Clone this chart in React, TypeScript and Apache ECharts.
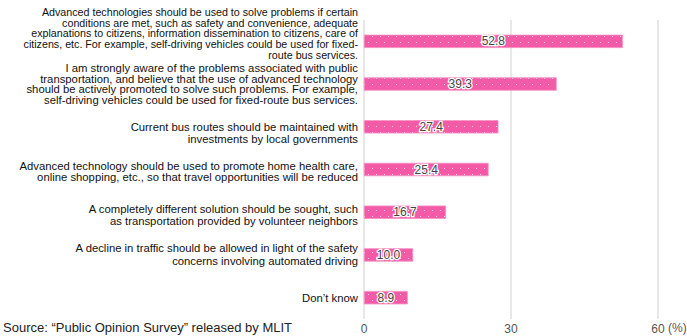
import React, { useEffect, useRef } from "react";
import * as echarts from "echarts";

const categories: string[] = [
  "Advanced technologies should be used to solve problems if certain\nconditions are met, such as safety and convenience, adequate\nexplanations to citizens, information dissemination to citizens, care of\ncitizens, etc. For example, self-driving vehicles could be used for fixed-\nroute bus services.",
  "I am strongly aware of the problems associated with public\ntransportation, and believe that the use of advanced technology\nshould be actively promoted to solve such problems. For example,\nself-driving vehicles could be used for fixed-route bus services.",
  "Current bus routes should be maintained with\ninvestments by local governments",
  "Advanced technology should be used to promote home health care,\nonline shopping, etc., so that travel opportunities will be reduced",
  "A completely different solution should be sought, such\nas transportation provided by volunteer neighbors",
  "A decline in traffic should be allowed in light of the safety\nconcerns involving automated driving",
  "Don\u2019t know",
];

const values: number[] = [52.8, 39.3, 27.4, 25.4, 16.7, 10.0, 8.9];

const xTicks = { min: 0, max: 60, interval: 30 };
const unitLabel = "(%)";
const sourceText = "Source: \u201cPublic Opinion Survey\u201d released by MLIT";

const FONT = "'Liberation Sans', Arial, sans-serif";

export default function App() {
  const ref = useRef<HTMLDivElement>(null);
  useEffect(() => {
    document.body.style.margin = "0";
    if (!ref.current) return;
    const chart = echarts.init(ref.current, undefined, { renderer: "svg" });
    const catStyles: any[] = [
      { lineHeight: 10.6, fontSize: 10.7 },
      { lineHeight: 10.6 },
      { lineHeight: 12 },
      { lineHeight: 11.5 },
      { lineHeight: 12 },
      { lineHeight: 13 },
      { lineHeight: 12 },
    ];
    // [leading gap, trailing gap] in px, used to nudge multi-line labels
    const gaps: [number, number][] = [
      [0, 16],
      [0, 0],
      [12, 0],
      [4, 0],
      [5, 0],
      [0, 0],
      [0, 0],
    ];
    const rich: any = {};
    [4, 5, 12, 16].forEach((g) => {
      rich["g" + g] = { lineHeight: g, height: g, fontSize: 1 };
    });
    chart.setOption({
      animation: false,
      textStyle: { fontFamily: FONT },
      grid: { left: 364, right: 29, top: 20, bottom: 17, containLabel: false },
      xAxis: {
        type: "value",
        min: xTicks.min,
        max: xTicks.max,
        interval: xTicks.interval,
        axisLine: { show: false },
        axisTick: { show: false },
        splitLine: { show: true, lineStyle: { color: "#e0e0e0", width: 1.5 } },
        axisLabel: { color: "#555", fontSize: 12, margin: 4, fontFamily: FONT },
      },
      yAxis: {
        type: "category",
        inverse: true,
        data: categories.map((c, i) => ({ value: c, textStyle: catStyles[i] })),
        axisLine: { show: false },
        axisTick: { show: false },
        axisLabel: {
          color: "#111",
          fontSize: 11.3,
          margin: 6,
          interval: 0,
          hideOverlap: false,
          fontFamily: FONT,
          align: "right",
          rich,
          formatter: (v: string, i: number) => {
            const [a, b] = gaps[i] || [0, 0];
            let s = v;
            if (a) s = "{g" + a + "|\u00a0}\n" + s;
            if (b) s = s + "\n{g" + b + "|\u00a0}";
            return s;
          },
        },
      },
      series: [
        {
          type: "bar",
          data: values,
          barWidth: 13,
          itemStyle: {
            color: "#f35ba6",
            borderColor: "#f98cc2",
            borderWidth: 0.5,
            decal: {
              symbol: "rect",
              symbolSize: 1,
              color: "rgba(255,255,255,0.75)",
              dashArrayX: [[1, 7], [0, 4, 1, 3]],
              dashArrayY: [1, 5],
              rotation: 0,
            },
          },
          label: {
            show: true,
            position: "inside",
            color: "#444",
            fontSize: 12,
            fontFamily: FONT,
            textBorderColor: "#fff",
            textBorderWidth: 2.5,
            formatter: (p: any) => Number(p.value).toFixed(1),
          },
        },
      ],
      graphic: [
        {
          type: "text",
          left: 3,
          top: 321,
          style: { text: sourceText, fill: "#222", fontSize: 13, fontFamily: FONT },
        },
        {
          type: "text",
          left: 668,
          top: 322,
          style: { text: unitLabel, fill: "#555", fontSize: 12, fontFamily: FONT },
        },
      ],
    });
    return () => chart.dispose();
  }, []);
  return <div ref={ref} style={{ width: 687, height: 336 }} />;
}
